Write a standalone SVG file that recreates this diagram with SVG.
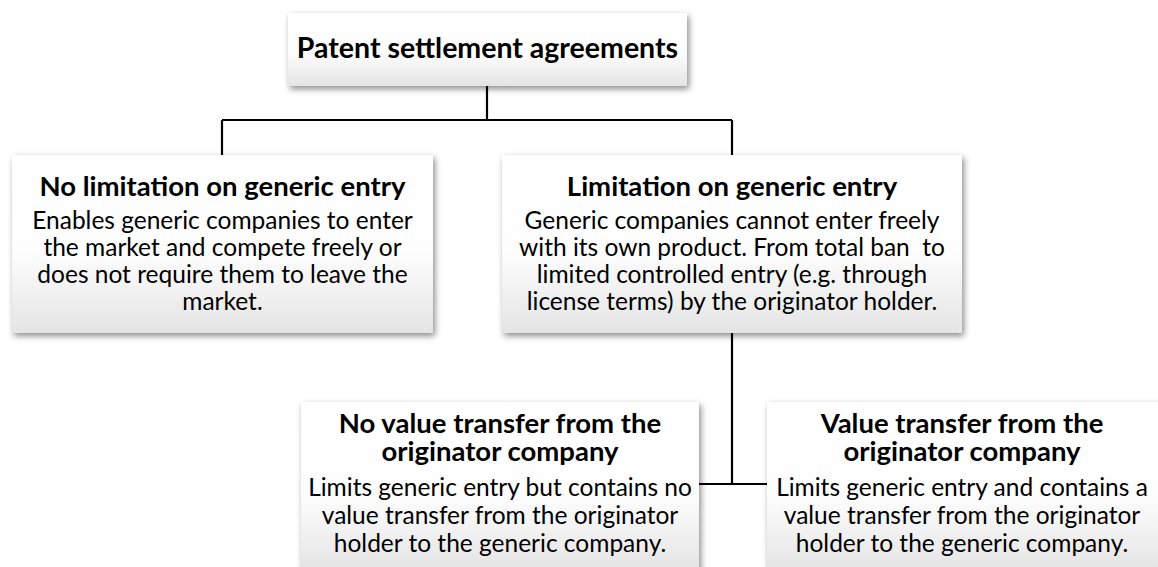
<svg xmlns="http://www.w3.org/2000/svg" width="1158" height="567" viewBox="0 0 1158 567">
  <defs>
    <linearGradient id="boxFill" x1="0" y1="0" x2="0" y2="1">
      <stop offset="0" stop-color="#ffffff"/>
      <stop offset="0.55" stop-color="#fdfdfd"/>
      <stop offset="1" stop-color="#e4e4e4"/>
    </linearGradient>
    <filter id="shadow" x="-10%" y="-10%" width="120%" height="130%">
      <feDropShadow dx="2" dy="3" stdDeviation="3" flood-color="#000" flood-opacity="0.45"/>
    </filter>
  </defs>
  <style>
    .box { fill: url(#boxFill); filter: url(#shadow); }
    .title { font-family: Lato, "Open Sans", sans-serif; font-weight: bold; font-size: 27.5px; fill: #000; text-anchor: middle; }
    .body { font-family: Lato, "Open Sans", sans-serif; font-size: 24.5px; fill: #000; text-anchor: middle; }
    .wire { fill: none; stroke: #000; stroke-width: 2.2; }
  </style>
  <rect width="1158" height="567" fill="#fff"/>

  <g id="connectors">
    <path class="wire" d="M487 86 V120 M222 120 H732 M222 120 V155 M732 120 V155"/>
    <path class="wire" d="M732 333 V484 M699 484 H767"/>
  </g>

  <g id="root">
    <rect class="box" x="288" y="13" width="399" height="73"/>
    <text class="title" x="487.5" y="58" style="font-size:28.5px">Patent settlement agreements</text>
  </g>

  <g id="no-limitation">
    <rect class="box" x="12" y="155" width="421" height="178"/>
    <text class="title" x="222.5" y="196">No limitation on generic entry</text>
    <text class="body" x="222.5" y="229">Enables generic companies to enter</text>
    <text class="body" x="222.5" y="256">the market and compete freely or</text>
    <text class="body" x="222.5" y="283">does not require them to leave the</text>
    <text class="body" x="222.5" y="310">market.</text>
  </g>

  <g id="limitation">
    <rect class="box" x="502" y="155" width="460" height="178"/>
    <text class="title" x="732" y="196">Limitation on generic entry</text>
    <text class="body" x="732" y="229">Generic companies cannot enter freely</text>
    <text class="body" x="732" y="256" xml:space="preserve">with its own product. From total ban  to</text>
    <text class="body" x="732" y="283">limited controlled entry (e.g. through</text>
    <text class="body" x="732" y="310">license terms) by the originator holder.</text>
  </g>

  <g id="no-value-transfer">
    <rect class="box" x="301" y="402" width="398" height="170"/>
    <text class="title" x="500" y="433">No value transfer from the<tspan x="500" dy="28">originator company</tspan></text>
    <text class="body" x="500" y="496">Limits generic entry but contains no</text>
    <text class="body" x="500" y="524">value transfer from the originator</text>
    <text class="body" x="500" y="552">holder to the generic company.</text>
  </g>

  <g id="value-transfer">
    <rect class="box" x="767" y="402" width="392" height="170"/>
    <text class="title" x="962" y="433">Value transfer from the<tspan x="962" dy="28">originator company</tspan></text>
    <text class="body" x="962" y="496">Limits generic entry and contains a</text>
    <text class="body" x="962" y="524">value transfer from the originator</text>
    <text class="body" x="962" y="552">holder to the generic company.</text>
  </g>
</svg>
